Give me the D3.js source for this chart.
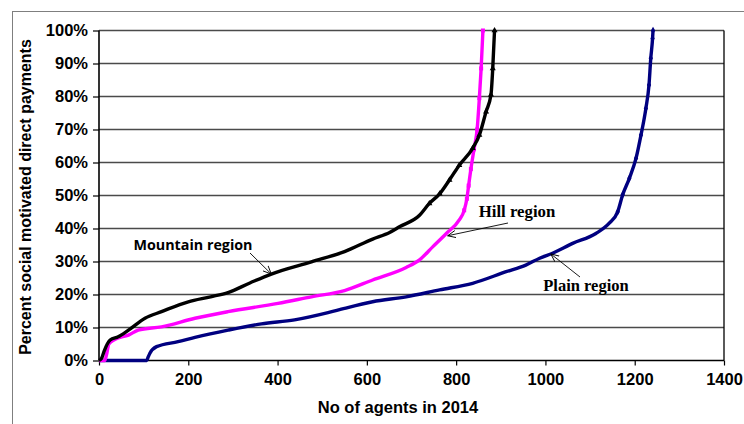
<!DOCTYPE html>
<html><head><meta charset="utf-8">
<script src="https://cdn.jsdelivr.net/npm/d3@7"></script>
<style>
html,body{margin:0;padding:0;background:#fff;}
svg{display:block;}
</style></head>
<body>
<svg id="chart" width="744" height="424"></svg>
<script>
// ---- data ----
const xTicks = [0, 200, 400, 600, 800, 1000, 1200, 1400];
const yTicks = [0, 10, 20, 30, 40, 50, 60, 70, 80, 90, 100];

const mountainAgents = [0, 6, 12, 25, 43, 66, 103, 140, 200, 250, 289, 338, 386, 476, 550, 613, 651, 673, 718, 740, 763, 785, 807, 837, 852, 867, 878, 882, 886];
const mountainPct    = [0, 0.7, 3, 6.2, 7.2, 9.2, 12.8, 14.8, 17.8, 19.3, 20.6, 23.5, 26.2, 29.9, 33, 36.8, 38.8, 40.5, 44, 47.6, 50.5, 54.7, 59.2, 64.3, 68.3, 75.4, 80.5, 88.5, 100];

const hillAgents = [0, 13, 18, 22, 36, 66, 88, 140, 215, 289, 401, 476, 550, 613, 688, 718, 748, 778, 807, 818, 824, 828, 833, 840, 847, 852, 856, 860];
const hillPct    = [0, 0, 2.5, 5, 6.4, 7.7, 9.2, 10.2, 12.8, 14.8, 17.3, 19.3, 21.2, 24.4, 28.2, 30.5, 34.5, 38.5, 42.6, 45.5, 49, 53, 58, 64, 70, 79.5, 88.5, 100];

const plainAgents = [0, 107, 110, 114, 129, 177, 215, 289, 364, 438, 513, 550, 613, 688, 763, 837, 912, 956, 987, 1016, 1061, 1113, 1143, 1162, 1173, 1188, 1203, 1214, 1225, 1232, 1236, 1240, 1241];
const plainPct    = [0, 0, 1, 2.2, 4.2, 5.7, 7, 9.2, 11.1, 12.3, 14.5, 15.8, 17.8, 19.3, 21.4, 23.4, 26.9, 28.9, 31, 32.5, 35.5, 38.5, 41.6, 45.1, 50.2, 55.2, 61.3, 68.3, 76.4, 83.5, 91.6, 97.6, 100];

const seriesNames = ["Mountain region", "Hill region", "Plain region"];

// ---- layout ----
const svg = d3.select("#chart");
const L = 99, R = 724, T = 30.5, B = 360.5;
const x = d3.scaleLinear().domain([0, 1400]).range([L, R]);
const y = d3.scaleLinear().domain([0, 100]).range([B, T]);

// outer frame
svg.append("rect").attr("x", 12.5).attr("y", 11.5).attr("width", 740).attr("height", 430)
  .attr("fill", "none").attr("stroke", "#7f7f7f").attr("stroke-width", 1);

// gridlines
svg.append("g").selectAll("line").data(yTicks.filter(d => d > 0)).join("line")
  .attr("x1", L).attr("x2", R).attr("y1", d => y(d)).attr("y2", d => y(d))
  .attr("stroke", "#4a4a4a").attr("stroke-width", 1.3);

// right border of plot area
svg.append("line").attr("x1", R).attr("x2", R).attr("y1", T).attr("y2", B)
  .attr("stroke", "#000").attr("stroke-width", 1.3);

// axes
const yAxis = d3.axisLeft(y).tickValues(yTicks).tickFormat(d => d + "%").tickSize(6).tickPadding(5);
const gy = svg.append("g").attr("transform", `translate(${L},0)`).call(yAxis);
const xAxis = d3.axisBottom(x).tickValues(xTicks).tickFormat(d3.format("d")).tickSize(5).tickPadding(8);
const gx = svg.append("g").attr("transform", `translate(0,${B})`).call(xAxis);
[gx, gy].forEach(g => {
  g.select(".domain").attr("stroke", "#000").attr("stroke-width", 1.6);
  g.selectAll(".tick line").attr("stroke", "#000").attr("stroke-width", 1.2);
  g.selectAll("text").attr("font-family", "Liberation Sans, Arial, sans-serif")
    .attr("font-weight", "bold").attr("font-size", 16.5).attr("fill", "#000");
});
gx.select(".domain").attr("d", `M${L},0H${R}`);
gy.select(".domain").attr("d", `M0,${B}V${T}`);

// axis titles
svg.append("text").attr("x", 398).attr("y", 413).attr("text-anchor", "middle")
  .attr("font-family", "Liberation Sans, Arial, sans-serif").attr("font-weight", "bold")
  .attr("font-size", 16.5).text("No of agents in 2014");
svg.append("text").attr("transform", "translate(31,197) rotate(-90)").attr("text-anchor", "middle")
  .attr("font-family", "Liberation Sans, Arial, sans-serif").attr("font-weight", "bold")
  .attr("font-size", 16).text("Percent social motivated direct payments");

// series
const series = [
  { name: seriesNames[0], xs: mountainAgents, ys: mountainPct, color: "#000000", sym: d3.symbolTriangle },
  { name: seriesNames[1], xs: hillAgents, ys: hillPct, color: "#ff00ff", sym: d3.symbolSquare },
  { name: seriesNames[2], xs: plainAgents, ys: plainPct, color: "#000080", sym: d3.symbolDiamond }
];
const line = d3.line().x(d => x(d[0])).y(d => y(d[1])).curve(d3.curveMonotoneX);
series.slice().reverse().forEach(s => {
  const pts = s.xs.map((v, i) => [v, s.ys[i]]);
  svg.append("path").datum(pts).attr("d", line).attr("fill", "none")
    .attr("stroke", s.color).attr("stroke-width", 3.4).attr("stroke-linejoin", "round");
  svg.append("g").selectAll("path").data(pts.filter(d => d[1] >= 45)).join("path")
    .attr("transform", d => `translate(${x(d[0])},${y(d[1])})`)
    .attr("d", d3.symbol().type(s.sym).size(16)).attr("fill", s.color);
});

// annotations
const defs = svg.append("defs");
defs.append("marker").attr("id", "arr").attr("viewBox", "0 0 10 10").attr("refX", 9).attr("refY", 5)
  .attr("markerWidth", 9).attr("markerHeight", 9).attr("orient", "auto").attr("markerUnits", "userSpaceOnUse")
  .append("path").attr("d", "M0,1 L9,5 L0,9").attr("fill", "none").attr("stroke", "#000").attr("stroke-width", 1);

const notes = [
  { text: seriesNames[0], tx: 193, ty: 250, font: "Open Sans, Liberation Sans, sans-serif", size: 14.3, x1: 250, y1: 253, tip: [386, 26.2] },
  { text: seriesNames[1], tx: 517, ty: 217, font: "Liberation Serif, Times New Roman, serif", size: 16.8, x1: 508, y1: 223, tip: [781, 37.8] },
  { text: seriesNames[2], tx: 586, ty: 291, font: "Liberation Serif, Times New Roman, serif", size: 16.5, x1: 580, y1: 277, tip: [1012, 32.3] }
];
notes.forEach(n => {
  svg.append("line").attr("x1", n.x1).attr("y1", n.y1).attr("x2", x(n.tip[0])).attr("y2", y(n.tip[1]))
    .attr("stroke", "#000").attr("stroke-width", 0.9).attr("marker-end", "url(#arr)");
  svg.append("text").attr("x", n.tx).attr("y", n.ty).attr("text-anchor", "middle")
    .attr("font-family", n.font).attr("font-weight", "bold").attr("font-size", n.size).text(n.text);
});
</script>
</body></html>
